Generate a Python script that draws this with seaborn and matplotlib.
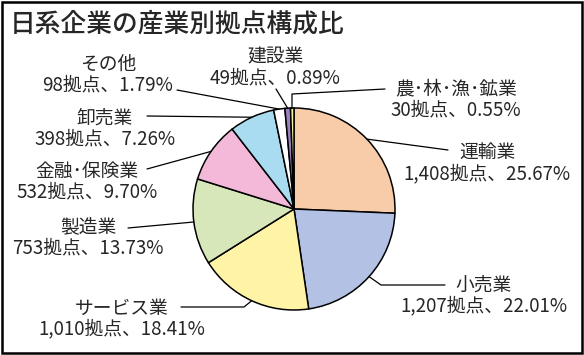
import numpy as np
import matplotlib
matplotlib.use("Agg")
import matplotlib.pyplot as plt
from matplotlib.patches import Rectangle
import seaborn as sns

# data (clockwise from 12 o'clock)
industries = ["運輸業", "小売業", "サービス業", "製造業", "金融･保険業",
              "卸売業", "その他", "建設業", "農･林･漁･鉱業"]
counts = [1408, 1207, 1010, 753, 532, 398, 98, 49, 30]
shares = [25.67, 22.01, 18.41, 13.73, 9.70, 7.26, 1.79, 0.89, 0.55]
count_labels = ["1,408", "1,207", "1,010", "753", "532", "398", "98", "49", "30"]

colors = sns.color_palette(["#F9CCA9", "#B3C1E5", "#FFF3A6", "#D7E7BA", "#F4B9D8",
                            "#A9DCF1", "#FFFFFF", "#9B80C2", "#EFF0A0"])

sns.set_theme(style="white")
plt.rcParams["font.family"] = ["Noto Sans CJK JP", "DejaVu Sans"]

W, H = 584, 355
fig = plt.figure(figsize=(W / 100, H / 100), dpi=100)
ax = fig.add_axes([0, 0, 1, 1])

# pie geometry in pixel units (y measured from the top)
cx, cy, r = 294, 209, 101

def px(x, y):
    return x, H - y

ax.pie(shares, colors=colors, startangle=90, counterclock=False,
       center=px(cx, cy), radius=r,
       wedgeprops=dict(edgecolor="black", linewidth=1.1))
ax.set_xlim(0, W)
ax.set_ylim(0, H)
ax.set_aspect("equal")
ax.axis("off")

# label layout: name centre, leader start, optional elbow
layout = {
    "運輸業": ((487, 153), (448, 150), None),
    "小売業": ((484, 285), (445, 285), (381, 285)),
    "サービス業": ((122, 308), (181, 307), (244, 307)),
    "製造業": ((88, 227), (128, 228), None),
    "金融･保険業": ((87, 171), (147, 169), None),
    "卸売業": ((105, 118), (147, 116), None),
    "その他": ((108, 64), (177, 90), None),
    "建設業": ((275, 57), (276, 89), None),
    "農･林･漁･鉱業": ((456, 89), (385, 89), (292, 94)),
}

cum = np.concatenate([[0], np.cumsum(shares)]) / sum(shares)
for i, name in enumerate(industries):
    mid = 90 - 360 * (cum[i] + cum[i + 1]) / 2
    ax_x = cx + r * np.cos(np.radians(mid))
    ax_y = cy - r * np.sin(np.radians(mid))
    (tx, ty), (lx, ly), elbow = layout[name]
    xs, ys = [lx], [ly]
    if elbow is not None:
        xs.append(elbow[0])
        ys.append(elbow[1])
    if name == "農･林･漁･鉱業":
        xs.append(elbow[0])
    else:
        xs.append(ax_x)
    ys.append(ax_y)
    ax.plot(xs, [H - y for y in ys], color="black", lw=0.9, zorder=5)
    ax.text(*px(tx, ty), name, ha="center", va="center", fontsize=13.5)
    ax.text(*px(tx, ty + 21), f"{count_labels[i]}拠点、{shares[i]:.2f}%",
            ha="center", va="center", fontsize=13.5)

fig.text(10 / W, 1 - 24 / H, "日系企業の産業別拠点構成比", ha="left", va="center",
         fontsize=18.5, fontweight="medium")

fig.patches.append(Rectangle((0.003, 0.005), 0.993, 0.99, transform=fig.transFigure,
                             fill=False, edgecolor="black", linewidth=1.8))

fig.savefig("out.png", dpi=100)
